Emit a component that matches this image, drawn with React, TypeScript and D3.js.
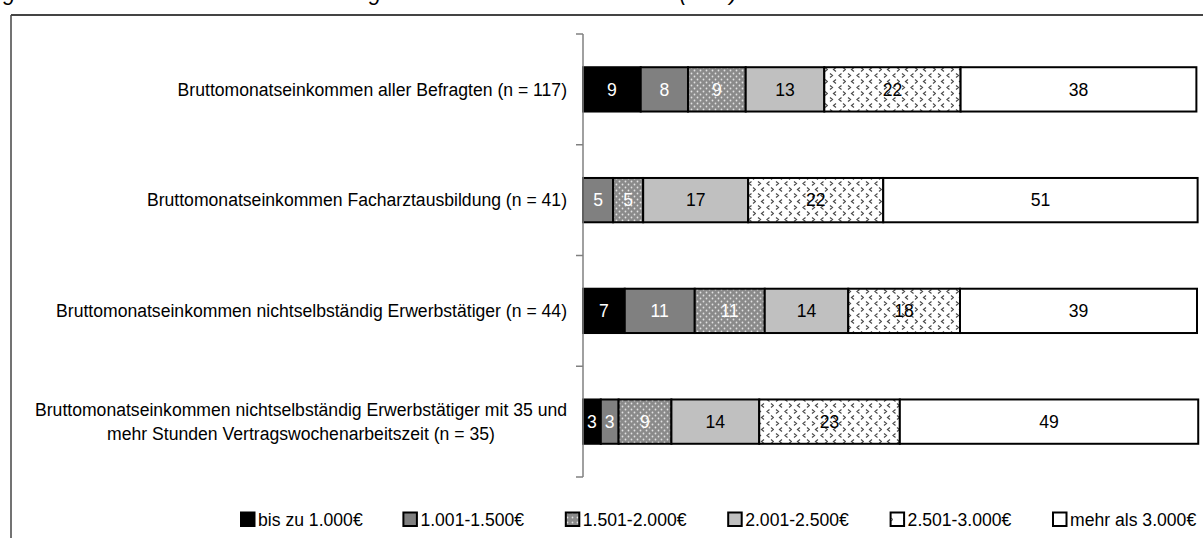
import React from "react";
import * as d3 from "d3";

// ---------- data ----------
const categoryLines: string[][] = [
  ["Bruttomonatseinkommen aller Befragten (n = 117)"],
  ["Bruttomonatseinkommen Facharztausbildung (n = 41)"],
  ["Bruttomonatseinkommen nichtselbständig Erwerbstätiger (n = 44)"],
  [
    "Bruttomonatseinkommen nichtselbständig Erwerbstätiger mit 35 und",
    "mehr Stunden Vertragswochenarbeitszeit (n = 35)",
  ],
];
const categories = categoryLines.map((l) => l.join(" "));

const seriesNames = [
  "bis zu 1.000€",
  "1.001-1.500€",
  "1.501-2.000€",
  "2.001-2.500€",
  "2.501-3.000€",
  "mehr als 3.000€",
];

// percentages per category (same order as categories)
const bis1000 = [9.4, 0, 6.8, 2.9];
const von1001 = [7.7, 4.9, 11.4, 2.9];
const von1501 = [9.4, 4.9, 11.4, 8.6];
const von2001 = [12.8, 17.1, 13.6, 14.3];
const von2501 = [22.2, 22.0, 18.2, 22.9];
const mehr3000 = [38.4, 51.2, 38.6, 48.6];
const seriesValues = [bis1000, von1001, von1501, von2001, von2501, mehr3000];

const titleText =
  "Abbildung: Bruttomonatseinkommen der Befragten nach Einkommensklassen (in %)";

// ---------- styling ----------
const FONT = "'Liberation Sans', Arial, sans-serif";
const FS = 17.6;
const fills = [
  "#000000",
  "#808080",
  "url(#dots)",
  "#c0c0c0",
  "url(#divot)",
  "#ffffff",
];
const legendFills = [
  "#000000",
  "#808080",
  "url(#dotsL)",
  "#c0c0c0",
  "url(#divotL)",
  "#ffffff",
];
const textColors = ["#fff", "#fff", "#fff", "#000", "#000", "#000"];

let ctx: CanvasRenderingContext2D | null = null;
function measure(t: string): number {
  if (!ctx) {
    const c = document.createElement("canvas");
    ctx = c.getContext("2d");
  }
  if (!ctx) return t.length * 8.4;
  ctx.font = `${FS}px ${FONT}`;
  return ctx.measureText(t).width;
}

export default function App() {
  const W = 1203;
  const H = 538;
  const x = d3.scaleLinear().domain([0, 100]).range([583, 1197]);
  const y = d3
    .scaleBand<string>()
    .domain(categories)
    .range([34, 477])
    .paddingInner(0.6)
    .paddingOuter(0.3);
  const step = y.step();
  const [r0, r1] = y.range();

  const keys = seriesNames;
  const rows = categories.map((c, i) => {
    const o: any = { cat: c };
    keys.forEach((k, j) => (o[k] = seriesValues[j][i]));
    return o;
  });
  const stacked = d3.stack<any>().keys(keys)(rows);

  const tickYs = d3.range(categories.length + 1).map((i) => r0 + i * step);

  const legendX = d3
    .scaleLinear()
    .domain([0, seriesNames.length - 1])
    .range([240, 1052]);

  const labelRight = 567;

  return (
    <svg
      width={W}
      height={H}
      style={{ position: "absolute", left: 0, top: 0, background: "#fff" }}
      fontFamily={FONT}
    >
      <defs>
        <pattern id="dots" width={6} height={6} patternUnits="userSpaceOnUse">
          <rect width={6} height={6} fill="#8a8a8a" />
          <circle cx={1.5} cy={1.5} r={0.9} fill="#e2e2e2" />
          <circle cx={4.5} cy={4.5} r={0.9} fill="#e2e2e2" />
        </pattern>
        <pattern id="dotsL" width={5} height={5} patternUnits="userSpaceOnUse">
          <rect width={5} height={5} fill="#8a8a8a" />
          <circle cx={2.5} cy={2.5} r={0.9} fill="#e2e2e2" />
        </pattern>
        <pattern id="divot" width={18} height={12} patternUnits="userSpaceOnUse">
          <rect width={18} height={12} fill="#fff" />
          <path
            d="M2,1.5 l2.5,2 l-2.5,2 M13.5,1.5 l-2.5,2 l2.5,2 M8,7.5 l-2.5,2 l2.5,2 M15,7.5 l2.5,2 l-2.5,2"
            fill="none"
            stroke="#4a4a4a"
            strokeWidth={1.2}
          />
        </pattern>
        <pattern id="divotL" width={12} height={12} patternUnits="userSpaceOnUse">
          <rect width={12} height={12} fill="#fff" />
          <path d="M3,2 l2,1.5 l-2,1.5" fill="none" stroke="#555" strokeWidth={1} />
        </pattern>
      </defs>

      {/* title (cut off at top, as in the reference) */}
      <text
        x={737}
        y={-0.5}
        textAnchor="end"
        fontSize={22}
        fontStyle="italic"
        fill="#000"
      >
        {titleText}
      </text>

      {/* frame */}
      <line x1={11} x2={W} y1={15} y2={15} stroke="#444" strokeWidth={2} />
      <line x1={11} x2={11} y1={15} y2={H} stroke="#444" strokeWidth={1.5} />

      {/* bars */}
      {stacked.map((s, j) => (
        <g key={s.key}>
          {s.map((d, i) => {
            const v = d[1] - d[0];
            if (v <= 0) return null;
            const yy = y(categories[i]) as number;
            const bw = y.bandwidth();
            const x0 = x(d[0]);
            const x1 = x(d[1]);
            return (
              <g key={i}>
                <rect
                  x={x0}
                  y={yy}
                  width={x1 - x0}
                  height={bw}
                  fill={fills[j]}
                  stroke="#000"
                  strokeWidth={2}
                />
                <text
                  x={(x0 + x1) / 2}
                  y={yy + bw / 2}
                  dy="0.36em"
                  textAnchor="middle"
                  fontSize={FS}
                  fill={textColors[j]}
                >
                  {Math.round(v)}
                </text>
              </g>
            );
          })}
        </g>
      ))}

      {/* axis */}
      <line x1={583} x2={583} y1={r0} y2={r1} stroke="#808080" strokeWidth={1.5} />
      {tickYs.map((t, i) => (
        <line key={i} x1={576} x2={583} y1={t} y2={t} stroke="#808080" strokeWidth={1.5} />
      ))}

      {/* category labels */}
      {categoryLines.map((lines, i) => {
        const cy = (y(categories[i]) as number) + y.bandwidth() / 2;
        const lh = 24;
        const widths = lines.map(measure);
        const maxW = Math.max(...widths);
        const cx = labelRight - maxW / 2;
        return (
          <text key={i} fontSize={FS} fill="#000" textAnchor="middle">
            {lines.map((l, k) => (
              <tspan
                key={k}
                x={lines.length === 1 ? labelRight - widths[k] / 2 : cx}
                y={cy + (k - (lines.length - 1) / 2) * lh}
                dy="0.36em"
              >
                {l}
              </tspan>
            ))}
          </text>
        );
      })}

      {/* legend */}
      {seriesNames.map((n, j) => {
        const lx = legendX(j);
        return (
          <g key={n}>
            <rect
              x={lx + 1}
              y={512.5}
              width={13.5}
              height={13.5}
              fill={legendFills[j]}
              stroke="#000"
              strokeWidth={2}
            />
            <text x={lx + 18} y={519.5} dy="0.36em" fontSize={FS} fill="#000">
              {n}
            </text>
          </g>
        );
      })}
    </svg>
  );
}
